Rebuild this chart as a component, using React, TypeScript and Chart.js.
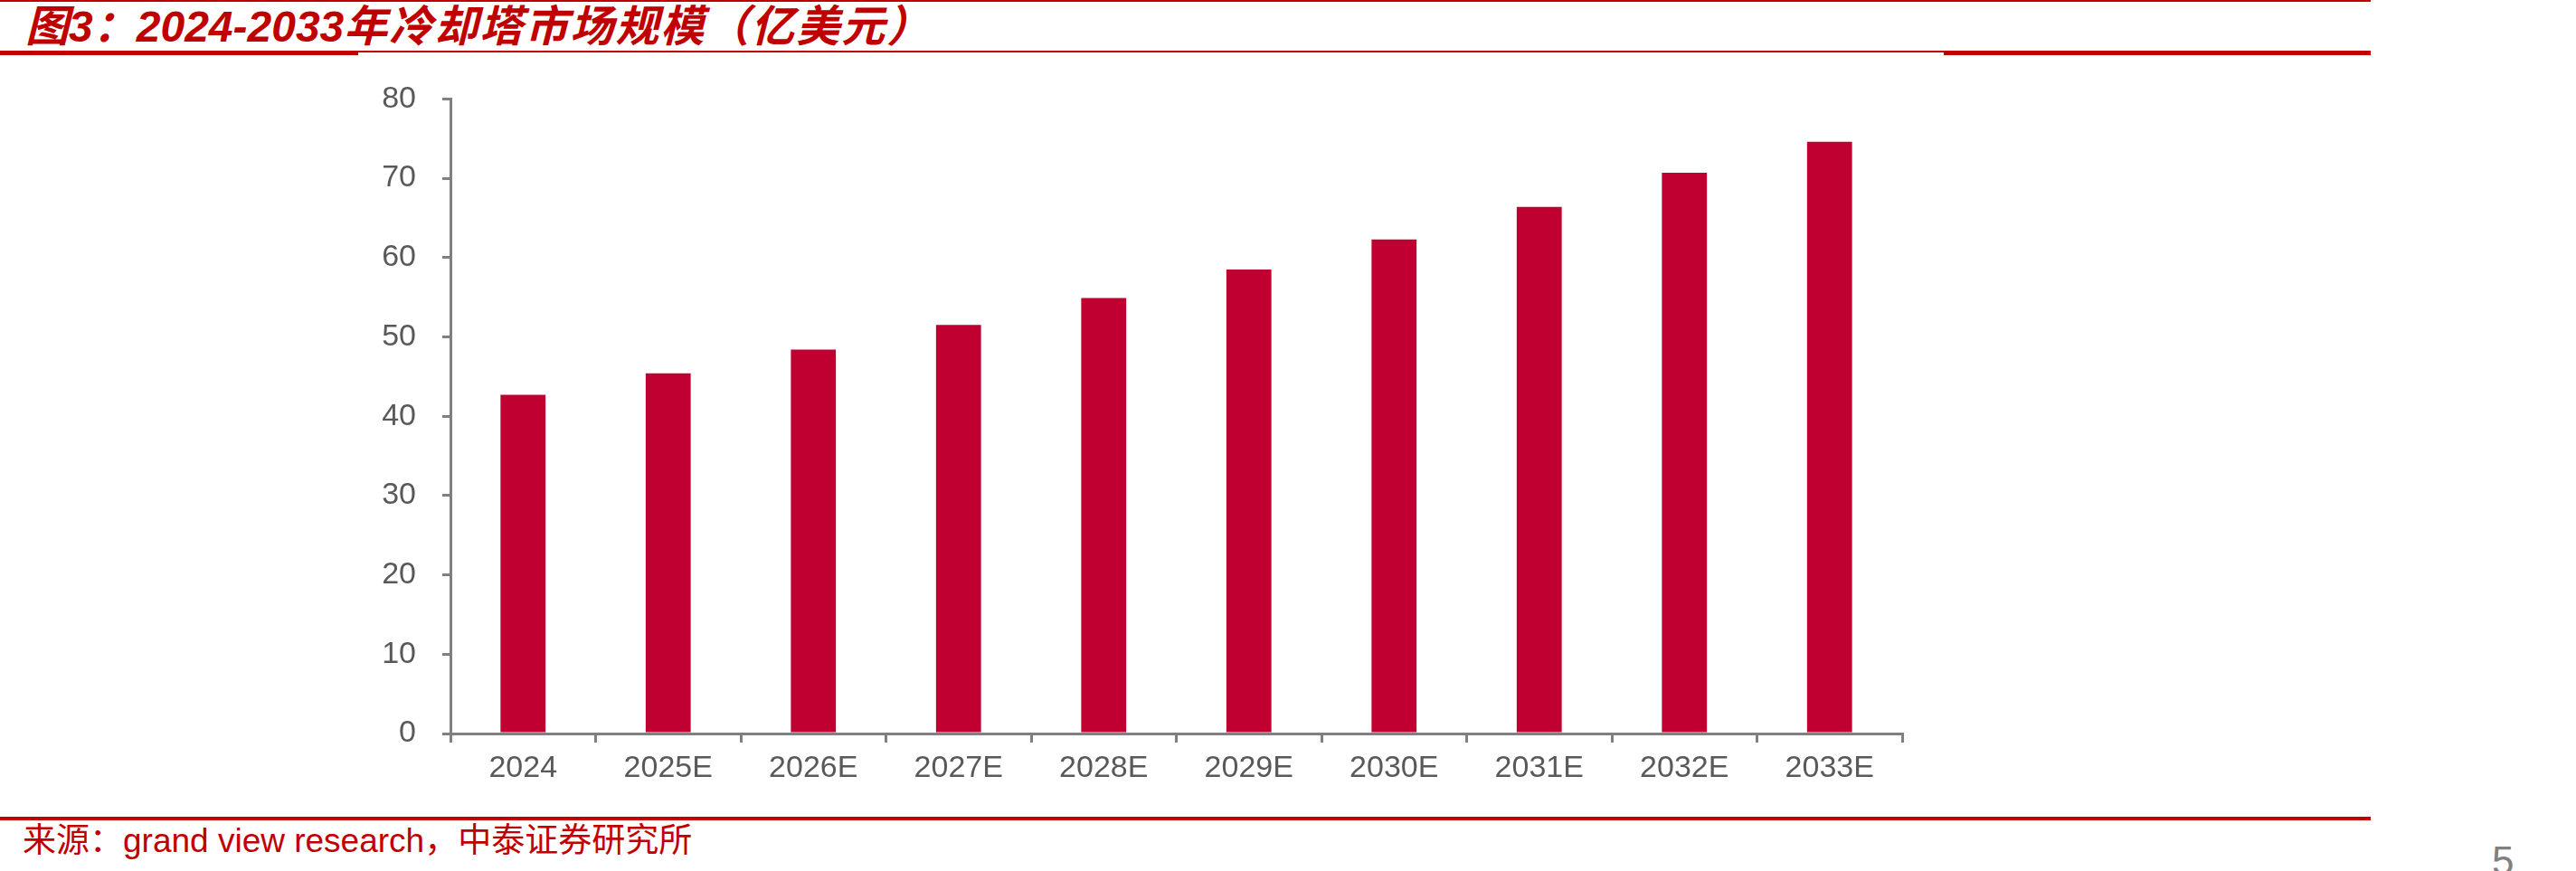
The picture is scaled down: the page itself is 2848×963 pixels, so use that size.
import React, { useEffect, useRef } from 'react';
import { Chart, registerables } from 'chart.js';

Chart.register(...registerables);

// ---- data ----
const categories: string[] = ['2024', '2025E', '2026E', '2027E', '2028E', '2029E', '2030E', '2031E', '2032E', '2033E'];
const marketSize: number[] = [42.7, 45.4, 48.4, 51.5, 54.9, 58.5, 62.3, 66.4, 70.7, 74.6];
const yTickValues: number[] = [0, 10, 20, 30, 40, 50, 60, 70, 80];

const titlePrefix = '图';
const titleNum = '3';
const titleColon = '：';
const titleYears = '2024-2033';
const titleRest = '年冷却塔市场规模（亿美元）';
const sourceText = '来源：grand view research，中泰证券研究所';
const pageNumber = '5';

const RED = '#C00000';
const BAR = '#C00030';
const AXIS = '#808080';
const LABEL = '#595959';
const FONT = "'Liberation Sans', Arial, 'Noto Sans CJK SC', sans-serif";

function BarChart() {
  const ref = useRef<HTMLCanvasElement | null>(null);
  useEffect(() => {
    if (!ref.current) return;
    Chart.defaults.font.family = FONT;
    const chart = new Chart(ref.current, {
      type: 'bar',
      data: {
        labels: categories,
        datasets: [
          {
            label: '冷却塔市场规模',
            data: marketSize,
            backgroundColor: BAR,
            borderWidth: 0,
            categoryPercentage: 1,
            barPercentage: 0.31,
          },
        ],
      },
      options: {
        animation: false,
        responsive: false,
        devicePixelRatio: 1,
        layout: { padding: { top: 45, right: 97, left: 0, bottom: 0 } },
        plugins: {
          legend: { display: false },
          tooltip: { enabled: false },
          title: { display: false },
        },
        scales: {
          x: {
            type: 'category',
            offset: true,
            afterFit: (s: any) => {
              s.height = 89;
            },
            border: { display: true, color: AXIS, width: 3 },
            grid: {
              display: true,
              offset: true,
              drawOnChartArea: false,
              drawTicks: true,
              tickLength: 10,
              color: AXIS,
              lineWidth: 3,
            },
            ticks: {
              color: LABEL,
              font: { size: 34, family: FONT },
              padding: 8,
              maxRotation: 0,
              autoSkip: false,
            },
          },
          y: {
            type: 'linear',
            min: 0,
            max: 80,
            afterFit: (s: any) => {
              s.width = 498;
            },
            afterBuildTicks: (s: any) => {
              s.ticks = yTickValues.map((v) => ({ value: v }));
            },
            border: { display: true, color: AXIS, width: 3 },
            grid: {
              display: true,
              drawOnChartArea: false,
              drawTicks: true,
              tickLength: 9,
              color: AXIS,
              lineWidth: 3,
            },
            ticks: {
              color: LABEL,
              font: { size: 34, family: FONT },
              padding: 29,
            },
          },
        },
      },
    });
    return () => chart.destroy();
  }, []);
  return (
    <canvas
      ref={ref}
      width={2200}
      height={840}
      style={{ position: 'absolute', left: 0, top: 60, width: 2200, height: 840 }}
    />
  );
}

export default function App() {
  const line = (left: number, top: number, width: number, height: number) => (
    <div style={{ position: 'absolute', left, top, width, height, background: RED }} />
  );
  return (
    <div
      style={{
        position: 'fixed',
        left: 0,
        top: 0,
        width: 2848,
        height: 963,
        background: '#ffffff',
        overflow: 'hidden',
      }}
    >
      {line(0, 0, 2621, 2)}
      {line(0, 56, 2621, 2)}
      {line(0, 57, 396, 4)}
      {line(2149, 57, 472, 4)}
      {line(0, 903, 2621, 4)}
      <div
        style={{
          position: 'absolute',
          left: 28,
          top: 6,
          whiteSpace: 'nowrap',
          fontFamily: FONT,
          fontSize: 48,
          lineHeight: '48px',
          fontWeight: 'bold',
          fontStyle: 'italic',
          color: RED,
        }}
      >
        <span>{titlePrefix}</span>
        <span>{titleNum}</span>
        <span>{titleColon}</span>
        <span>{titleYears}</span>
        <span style={{ letterSpacing: 2 }}>{titleRest}</span>
      </div>
      <BarChart />
      <div
        style={{
          position: 'absolute',
          left: 25,
          top: 911,
          whiteSpace: 'nowrap',
          fontFamily: FONT,
          fontSize: 37,
          lineHeight: '37px',
          color: RED,
        }}
      >
        {sourceText}
      </div>
      <div
        style={{
          position: 'absolute',
          left: 2755,
          top: 927,
          fontFamily: FONT,
          fontSize: 44,
          color: AXIS,
        }}
      >
        {pageNumber}
      </div>
    </div>
  );
}
